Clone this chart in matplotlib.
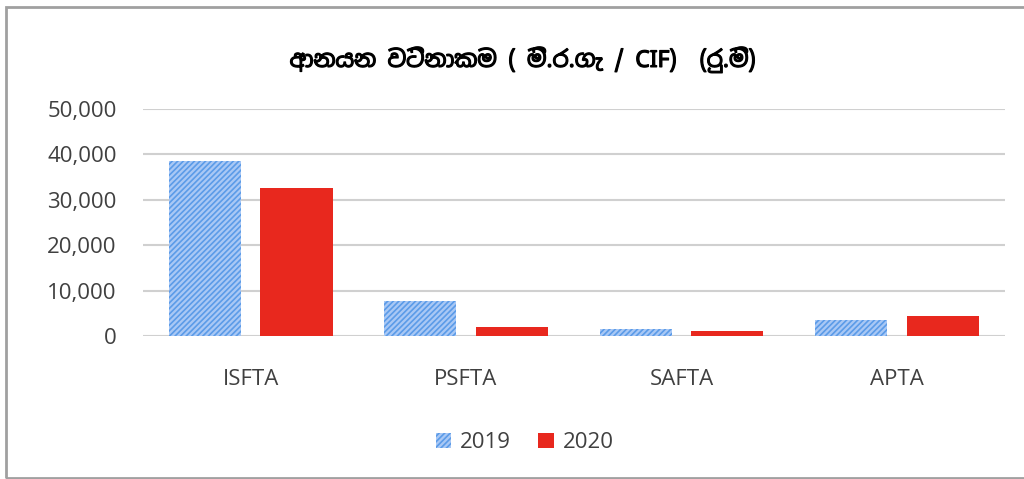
import matplotlib.pyplot as plt
import matplotlib.patches as mpatches
import matplotlib.patheffects as pe
import numpy as np

# data
agreements = ["ISFTA", "PSFTA", "SAFTA", "APTA"]
val_2019 = [38500, 7700, 1500, 3500]
val_2020 = [32600, 2000, 1100, 4400]
yticks = [0, 10000, 20000, 30000, 40000, 50000]
title = "ආනයන වටිනාකම ( මි.ර.ගැ / CIF)  (රු.මි)"

plt.rcParams['font.family'] = ['Open Sans', 'Noto Sans Sinhala', 'DejaVu Sans']
plt.rcParams['hatch.linewidth'] = 1.2

fig = plt.figure(figsize=(10.24, 4.79), dpi=100)
ax = fig.add_axes([0.1396, 0.2985, 0.8414, 0.4739])

x = np.arange(len(agreements))
w = 0.335
off = w / 2 + 0.045
ax.bar(x - off, val_2019, w, color="#a9c8f5", edgecolor="#5b9be8",
       hatch="//////", linewidth=0, label="2019")
ax.bar(x + off, val_2020, w, color="#e8281e", linewidth=0, label="2020")

ax.set_xlim(-0.5, len(agreements) - 0.5)
ax.set_ylim(0, 50000)
ax.set_yticks(yticks)
ax.set_yticklabels([f"{v:,}" for v in yticks], fontsize=16, color="#404040")
ax.set_xticks(x)
ax.set_xticklabels(agreements, fontsize=16, color="#404040")
ax.tick_params(length=0, axis="y", pad=19)
ax.tick_params(length=0, axis="x", pad=24)
ax.grid(axis="y", color="#d0d0d0", linewidth=1.5)
ax.set_axisbelow(True)
for s in ax.spines.values():
    s.set_visible(False)

fig.text(0.511, 0.875, title, ha="center", va="center", fontsize=16.5,
         fontweight="bold", color="black",
         family=['Noto Sans Sinhala', 'Open Sans', 'DejaVu Sans'],
         path_effects=[pe.withStroke(linewidth=0.9, foreground="black")])

ax.legend(loc="center", bbox_to_anchor=(0.443, -0.47), ncol=2, frameon=False,
          fontsize=16, handlelength=0.7, handleheight=0.7, columnspacing=1.2,
          handletextpad=0.4, labelcolor="#404040")

# outer frame
fig.patches.append(mpatches.Rectangle((0.006, 0.003), 1.1, 0.982, transform=fig.transFigure,
                                      fill=False, edgecolor="#a0a0a0", linewidth=2))

fig.savefig("out.png", dpi=100)
